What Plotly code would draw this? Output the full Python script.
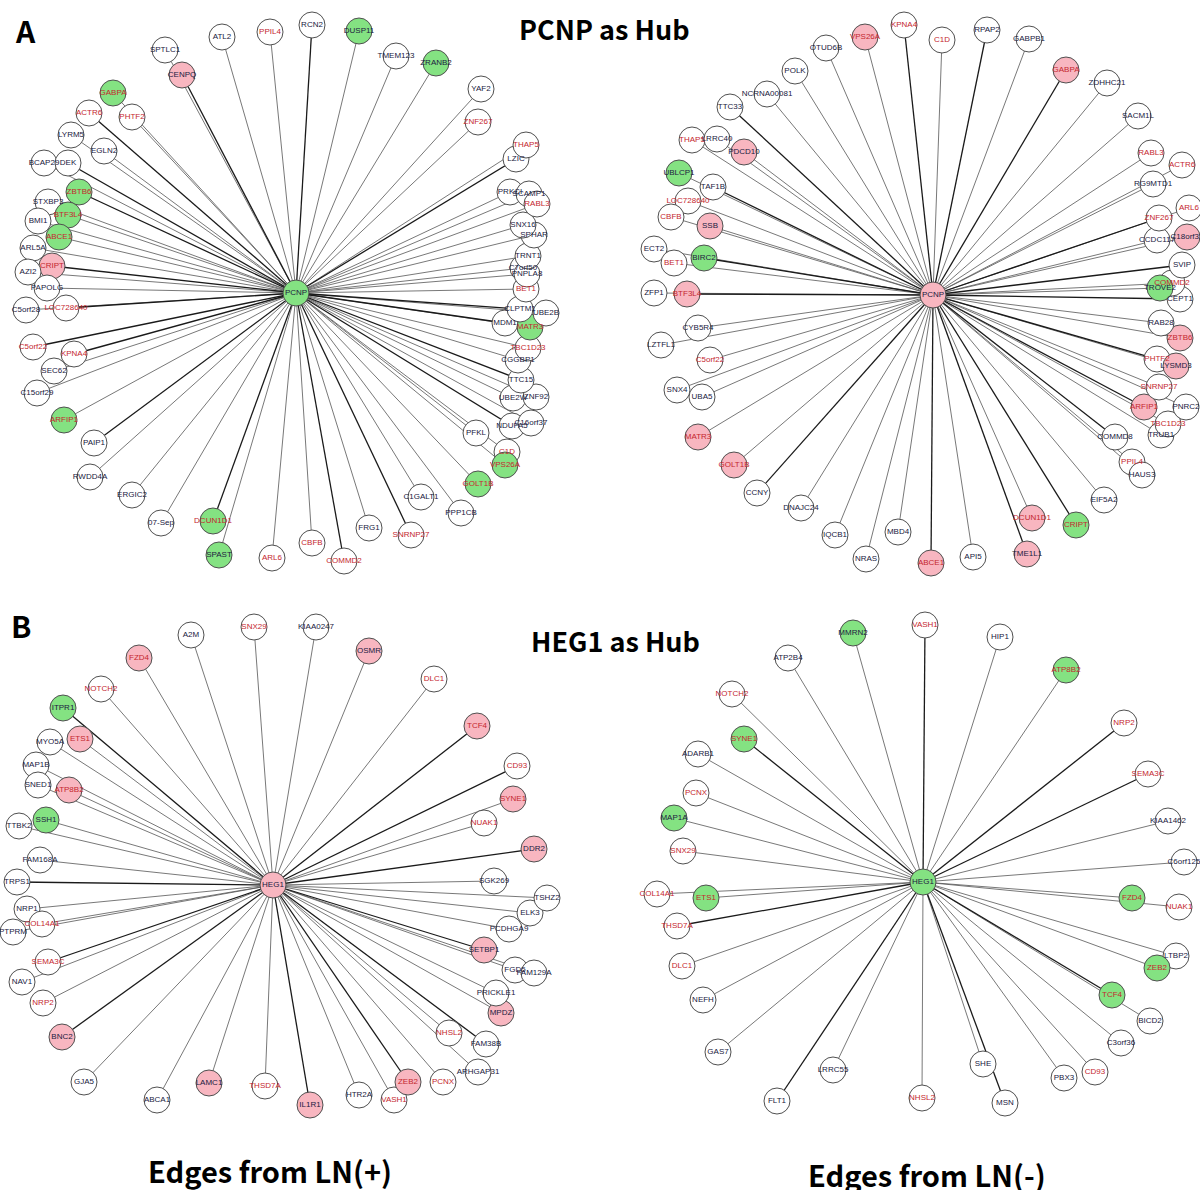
import plotly.graph_objects as go

# ---------------- Panel A : PCNP as hub ----------------
# LN(+) network
a_pos_hub = ("PCNP", 296, 293, "d")
a_pos_genes = ["SPTLC1", "CENPQ", "ATL2", "PPIL4", "RCN2", "DUSP11", "TMEM123", "ZRANB2", "YAF2",
               "ZNF267", "LZIC", "THAP5", "GABPA", "ACTR6", "PHTF2", "LYRM5", "EGLN2", "BCAP29", "DEK",
               "ZBTB6", "STXBP3", "BTF3L4", "BMI1", "ABCE1", "ARL5A", "CRIPT", "AZI2", "PAPOLG",
               "C5orf28", "LOC728640", "C5orf22", "KPNA4", "SEC62", "C15orf29", "ARFIP1", "PAIP1",
               "RWDD4A", "ERGIC2", "07-Sep", "DCUN1D1", "SPAST", "ARL6", "CBFB", "COMMD2", "FRG1",
               "SNRNP27", "C1GALT1", "PPP1CB", "GOLT1B", "C1D", "VPS26A", "PFKL", "NDUFA5", "C16orf37",
               "UBE2W", "ZNF92", "TTC15", "CGGBP1", "TBC1D23", "MDM1", "MATR3", "UBE2B", "CLPTM1",
               "BET1", "C7orf50", "PNPLA8", "TRNT1", "SPHAR", "SNX16", "PRKCI", "SCAMP1", "RABL3"]
a_pos_x = [165, 182, 222, 270, 312, 359, 396, 436, 481,
           478, 516, 526, 113, 89, 132, 71, 104, 44, 68,
           79, 48, 68, 38, 59, 33, 52, 28, 47,
           26, 66, 33, 74, 54, 37, 64, 94,
           90, 132, 161, 213, 219, 272, 312, 344, 369,
           411, 421, 461, 478, 507, 505, 476, 512, 531,
           513, 536, 521, 518, 528, 505, 530, 546, 520,
           526, 523, 527, 528, 534, 523, 510, 529, 537]
a_pos_y = [50, 75, 37, 32, 25, 31, 56, 63, 89,
           122, 159, 145, 93, 113, 117, 135, 151, 163, 163,
           192, 202, 215, 221, 237, 248, 266, 272, 288,
           310, 308, 347, 354, 371, 393, 420, 443,
           477, 495, 523, 521, 555, 558, 543, 561, 528,
           535, 497, 513, 484, 452, 465, 433, 426, 423,
           398, 397, 380, 360, 348, 323, 327, 313, 309,
           289, 268, 274, 256, 235, 225, 192, 194, 204]
a_pos_state = ["n", "u", "n", "n", "n", "d", "n", "d", "n",
               "n", "n", "n", "d", "n", "n", "n", "n", "n", "n",
               "d", "n", "d", "n", "d", "n", "u", "n", "n",
               "n", "n", "n", "n", "n", "n", "d", "n",
               "n", "n", "n", "d", "d", "n", "n", "n", "n",
               "n", "n", "n", "d", "n", "d", "n", "n", "n",
               "n", "n", "n", "n", "n", "n", "d", "n", "n",
               "n", "n", "n", "n", "n", "n", "n", "n", "n"]
a_pos_strong = ["ACTR6", "DEK", "ZBTB6", "CRIPT", "LOC728640", "C5orf22", "KPNA4", "PAIP1", "LZIC",
                "MDM1", "CLPTM1", "TTC15", "NDUFA5", "SNRNP27", "COMMD2", "RCN2", "CENPQ", "DCUN1D1"]

# LN(-) network
a_neg_hub = ("PCNP", 933, 295, "u")
a_neg_genes = ["KPNA4", "VPS26A", "OTUD6B", "C1D", "RPAP2", "GABPB1", "GABPA", "ZDHHC21", "SACM1L",
               "POLK", "NCRNA00081", "TTC33", "THAP5", "LRRC40", "PDCD10", "UBLCP1", "TAF1B",
               "LOC728640", "CBFB", "SSB", "ECT2", "BET1", "BIRC2", "ZFP1", "BTF3L4", "CYB5R4",
               "LZTFL1", "C5orf22", "SNX4", "UBA5", "MATR3", "GOLT1B", "CCNY", "DNAJC24", "IQCB1",
               "NRAS", "MBD4", "ABCE1", "API5", "TME1L1", "DCUN1D1", "CRIPT", "EIF5A2", "COMMD8",
               "PPIL4", "HAUS3", "TRUB1", "TBC1D23", "PNRC2", "ARFIP1", "SNRNP27", "PHTF2", "LYSMD3",
               "ZBTB6", "RAB28", "CEPT1", "COMMD2", "TROVE2", "SVIP", "CCDC117", "C18orf32", "ZNF267",
               "ARL6", "RG9MTD1", "ACTR6", "RABL3"]
a_neg_x = [904, 865, 826, 942, 987, 1029, 1066, 1107, 1138,
           795, 767, 730, 692, 717, 744, 679, 713,
           688, 671, 710, 654, 674, 704, 654, 687, 698,
           661, 710, 677, 702, 698, 734, 757, 801, 835,
           866, 898, 931, 973, 1027, 1032, 1076, 1104, 1115,
           1132, 1142, 1161, 1168, 1186, 1144, 1159, 1157, 1176,
           1180, 1161, 1180, 1172, 1160, 1182, 1157, 1187, 1159,
           1189, 1153, 1182, 1151]
a_neg_y = [25, 37, 48, 40, 30, 39, 70, 83, 116,
           71, 94, 107, 140, 139, 152, 173, 187,
           201, 217, 226, 249, 263, 258, 293, 294, 328,
           345, 360, 390, 397, 437, 465, 493, 508, 535,
           559, 532, 563, 557, 554, 518, 525, 500, 437,
           462, 475, 435, 424, 407, 407, 387, 359, 366,
           338, 323, 299, 283, 288, 265, 240, 237, 218,
           208, 184, 165, 153]
a_neg_state = ["n", "u", "n", "n", "n", "n", "u", "n", "n",
               "n", "n", "n", "n", "n", "u", "d", "n",
               "n", "n", "u", "n", "n", "d", "n", "u", "n",
               "n", "n", "n", "n", "u", "u", "n", "n", "n",
               "n", "n", "u", "n", "u", "u", "d", "n", "n",
               "n", "n", "n", "n", "n", "u", "n", "n", "u",
               "u", "n", "n", "n", "d", "n", "n", "u", "n",
               "n", "n", "n", "n"]
a_neg_strong = ["TTC33", "TAF1B", "BIRC2", "BTF3L4", "KPNA4", "RPAP2", "GABPA", "CCNY", "ABCE1",
                "TME1L1", "CRIPT", "PHTF2", "ZNF267", "SVIP", "CEPT1", "ARFIP1", "COMMD8"]

# ---------------- Panel B : HEG1 as hub ----------------
b_pos_hub = ("HEG1", 273, 885, "u")
b_pos_genes = ["A2M", "SNX29", "KIAA0247", "OSMR", "FZD4", "DLC1", "NOTCH2", "ITPR1", "MYO5A", "ETS1",
               "TCF4", "MAP1B", "SNED1", "ATP8B2", "CD93", "SYNE1", "NUAK1", "DDR2", "TTBK2", "SSH1",
               "FAM168A", "TRPS1", "SGK269", "NRP1", "PTPRM", "COL14A1", "SEMA3C", "NAV1", "NRP2",
               "BNC2", "GJA5", "ABCA1", "LAMC1", "THSD7A", "IL1R1", "HTR2A", "VASH1", "ZEB2", "PCNX",
               "NHSL2", "ARHGAP31", "FAM38B", "MPDZ", "PRICKLE1", "FGD5", "FAM129A", "SETBP1",
               "PCDHGA9", "ELK3", "TSHZ2"]
b_pos_x = [191, 254, 316, 369, 139, 434, 101, 63, 50, 80,
           477, 36, 38, 69, 517, 513, 484, 534, 19, 46,
           40, 17, 494, 27, 13, 42, 48, 22, 43,
           62, 84, 157, 209, 265, 310, 359, 394, 408, 443,
           449, 478, 486, 501, 496, 515, 534, 484,
           509, 530, 547]
b_pos_y = [635, 627, 627, 651, 658, 679, 689, 708, 742, 739,
           726, 765, 785, 790, 766, 799, 823, 849, 826, 820,
           860, 882, 881, 909, 932, 924, 962, 982, 1003,
           1037, 1082, 1100, 1083, 1086, 1105, 1095, 1100, 1082, 1082,
           1033, 1072, 1044, 1013, 993, 970, 973, 950,
           929, 913, 898]
b_pos_state = ["n", "n", "n", "u", "u", "n", "n", "d", "n", "u",
               "u", "n", "n", "u", "n", "u", "n", "u", "n", "d",
               "n", "n", "n", "n", "n", "n", "n", "n", "n",
               "u", "n", "n", "u", "n", "u", "n", "n", "u", "n",
               "n", "n", "n", "u", "n", "n", "n", "u",
               "n", "n", "n"]
b_pos_strong = ["ITPR1", "TCF4", "CD93", "DDR2", "TRPS1", "SEMA3C", "BNC2", "IL1R1", "ZEB2",
                "FAM38B", "SETBP1"]

b_neg_hub = ("HEG1", 923, 882, "d")
b_neg_genes = ["MMRN2", "VASH1", "HIP1", "ATP2B4", "ATP8B2", "NOTCH2", "NRP2", "SYNE1", "ADARB1",
               "SEMA3C", "PCNX", "MAP1A", "KIAA1462", "SNX29", "C6orf125", "COL14A1", "ETS1",
               "THSD7A", "DLC1", "NEFH", "GAS7", "FLT1", "LRRC55", "NHSL2", "SHE", "MSN", "PBX3",
               "CD93", "C3orf36", "BICD2", "TCF4", "LTBP2", "ZEB2", "FZD4", "NUAK1"]
b_neg_x = [853, 925, 1000, 788, 1066, 732, 1124, 744, 698,
           1148, 696, 674, 1168, 683, 1184, 657, 706,
           677, 682, 703, 718, 777, 833, 922, 983, 1005, 1064,
           1095, 1121, 1150, 1112, 1176, 1157, 1132, 1179]
b_neg_y = [633, 625, 637, 658, 670, 694, 723, 739, 754,
           774, 793, 818, 821, 851, 862, 894, 898,
           926, 966, 1000, 1052, 1101, 1070, 1098, 1064, 1103, 1078,
           1072, 1043, 1021, 995, 956, 968, 898, 907]
b_neg_state = ["d", "n", "n", "n", "d", "n", "n", "d", "n",
               "n", "n", "d", "n", "n", "n", "n", "d",
               "n", "n", "n", "n", "n", "n", "n", "n", "n", "n",
               "n", "n", "n", "d", "n", "d", "d", "n"]
b_neg_strong = ["SYNE1", "SEMA3C", "NRP2", "TCF4", "FLT1", "THSD7A", "VASH1", "MSN"]

# ---------------- styling ----------------
FILL = {"u": "#F8B6C0", "d": "#84E282", "n": "#FFFFFF"}
SHARED_TEXT = "#C4262E"   # gene present in both LN(+) and LN(-) networks
PLAIN_TEXT = "#202040"
NODE_SIZE = 26
LABEL_FONT = "Liberation Sans, Arial, sans-serif"
TITLE_FONT = "Noto Sans CJK KR, Noto Sans, sans-serif"

fig = go.Figure()


def add_network(hub, genes, xs, ys, states, strong, other_genes):
    hub_name, hx, hy, hub_state = hub
    # edges from the hub to every partner gene
    for weight, width, color in (("thin", 0.8, "#555555"), ("strong", 1.3, "#1a1a1a")):
        ex, ey = [], []
        for g, x, y in zip(genes, xs, ys):
            is_strong = g in strong
            if (weight == "strong") != is_strong:
                continue
            ex += [hx, x, None]
            ey += [hy, y, None]
        fig.add_trace(go.Scatter(x=ex, y=ey, mode="lines",
                                 line=dict(color=color, width=width),
                                 hoverinfo="skip", showlegend=False))
    # partner nodes and the hub
    all_names = list(genes) + [hub_name]
    all_x = list(xs) + [hx]
    all_y = list(ys) + [hy]
    all_state = list(states) + [hub_state]
    text_colors = [SHARED_TEXT if (g in other_genes and g != hub_name) else PLAIN_TEXT
                   for g in all_names]
    fig.add_trace(go.Scatter(
        x=all_x, y=all_y, mode="markers+text", text=all_names,
        textposition="middle center",
        textfont=dict(family=LABEL_FONT, size=8, color=text_colors),
        marker=dict(size=NODE_SIZE, color=[FILL[s] for s in all_state],
                    line=dict(color="#505050", width=1)),
        hoverinfo="text", showlegend=False))


add_network(a_pos_hub, a_pos_genes, a_pos_x, a_pos_y, a_pos_state, a_pos_strong, set(a_neg_genes))
add_network(a_neg_hub, a_neg_genes, a_neg_x, a_neg_y, a_neg_state, a_neg_strong, set(a_pos_genes))
add_network(b_pos_hub, b_pos_genes, b_pos_x, b_pos_y, b_pos_state, b_pos_strong, set(b_neg_genes))
add_network(b_neg_hub, b_neg_genes, b_neg_x, b_neg_y, b_neg_state, b_neg_strong, set(b_pos_genes))

# panel letters, titles and captions
headings = [
    ("A", 25, 30, 30),
    ("B", 21, 625, 30),
    ("PCNP as Hub", 604, 28, 27),
    ("HEG1 as Hub", 615, 640, 27),
    ("Edges from LN(+)", 270, 1170, 29),
    ("Edges from LN(-)", 927, 1174, 29),
]
for txt, x, y, size in headings:
    fig.add_annotation(x=x, y=y, xref="x", yref="y", text="<b>%s</b>" % txt, showarrow=False,
                       font=dict(family=TITLE_FONT, size=size, color="#000000"),
                       xanchor="center", yanchor="middle")

fig.update_xaxes(range=[0, 1200], visible=False, fixedrange=True)
fig.update_yaxes(range=[1190, 0], visible=False, fixedrange=True)
fig.update_layout(width=1200, height=1190, margin=dict(l=0, r=0, t=0, b=0),
                  plot_bgcolor="white", paper_bgcolor="white")

fig.write_html("out.html")
